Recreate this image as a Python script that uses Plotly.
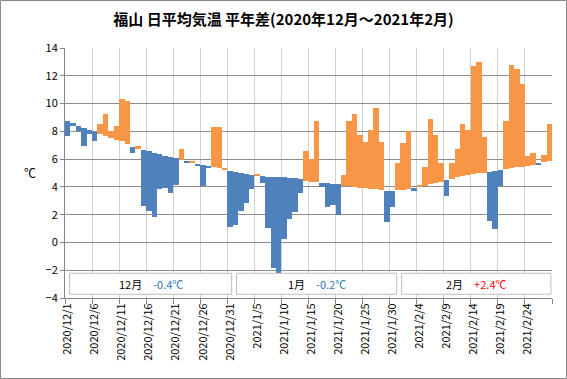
import plotly.graph_objects as go

# ---- data ----
tick_labels = ["2020/12/1", "2020/12/6", "2020/12/11", "2020/12/16", "2020/12/21",
               "2020/12/26", "2020/12/31", "2021/1/5", "2021/1/10", "2021/1/15",
               "2021/1/20", "2021/1/25", "2021/1/30", "2021/2/4", "2021/2/9",
               "2021/2/14", "2021/2/19", "2021/2/24"]

normal = [
    8.76, 8.58, 8.42, 8.26, 8.10, 7.98, 7.80, 7.65, 7.52, 7.40,
    7.27, 7.10, 6.88, 6.74, 6.66, 6.55, 6.45, 6.35, 6.25, 6.15,
    6.05, 5.95, 5.86, 5.76, 5.68, 5.60, 5.52, 5.44, 5.36, 5.25,
    5.15, 5.06, 5.00, 4.94, 4.88, 4.82, 4.76, 4.74, 4.72, 4.70,
    4.68, 4.66, 4.63, 4.56, 4.44, 4.38, 4.33, 4.30, 4.26, 4.22,
    4.18, 4.08, 4.04, 3.97, 3.92, 3.90, 3.87, 3.82, 3.75, 3.72,
    3.72, 3.77, 3.79, 3.83, 3.95, 4.02, 4.10, 4.18, 4.26, 4.38,
    4.50, 4.60, 4.70, 4.78, 4.86, 4.93, 4.98, 5.03, 5.10, 5.15,
    5.20, 5.28, 5.34, 5.40, 5.46, 5.52, 5.60, 5.68, 5.76, 5.84,
]

actual = [
    7.70, 8.40, 8.06, 6.98, 7.80, 7.27, 8.50, 9.26, 8.06, 8.40,
    10.32, 10.20, 6.43, 6.96, 2.65, 2.29, 1.81, 3.83, 3.90, 3.54,
    4.14, 6.74, 5.72, 5.90, 5.47, 4.07, 5.35, 8.30, 8.30, 5.39,
    1.14, 1.26, 2.29, 2.87, 3.88, 4.94, 4.31, 1.02, -1.87, -2.23,
    0.25, 1.69, 2.22, 3.59, 6.55, 6.02, 8.76, 4.02, 2.53, 2.73,
    1.96, 4.87, 8.76, 9.26, 7.75, 7.20, 8.11, 9.67, 7.20, 1.50,
    2.53, 5.70, 7.15, 8.01, 3.70, 4.12, 5.44, 8.90, 7.75, 5.75,
    3.37, 5.73, 6.74, 8.54, 8.11, 12.68, 13.00, 7.60, 1.57, 0.99,
    4.10, 8.78, 12.80, 12.49, 11.43, 6.24, 6.45, 5.61, 6.31, 8.52,
]

months = ["12月", "1月", "2月"]
month_anomaly = ["-0.4℃", "-0.2℃", "+2.4℃"]

# ---- figure ----
BLUE = "#4F81BD"
ORANGE = "#F79646"
FONT = "Noto Sans CJK JP, sans-serif"

idx = list(range(len(normal)))
diff = [a - n for a, n in zip(actual, normal)]
colors = [ORANGE if d >= 0 else BLUE for d in diff]

fig = go.Figure()
fig.add_trace(go.Bar(
    x=idx, y=diff, base=normal, width=1.0,
    marker=dict(color=colors, line=dict(width=0)),
    hoverinfo="skip", showlegend=False,
))

W, H = 567, 379
L, R, T, B = 65, 15, 48, 81
pw, ph = W - L - R, H - T - B

shapes = []
annotations = []

# month boxes
box_ranges = [(0.35, 30.3), (31.2, 60.8), (61.7, 89.3)]
box_y = (-3.73, -2.22)
anom_colors = ["#2E75B6", "#2E75B6", "#FF0000"]
for (x0, x1), m, a, c in zip(box_ranges, months, month_anomaly, anom_colors):
    shapes.append(dict(type="rect", xref="x", yref="y", x0=x0, x1=x1,
                       y0=box_y[0], y1=box_y[1], fillcolor="white",
                       line=dict(color="#BFBFBF", width=1), layer="above"))
    annotations.append(dict(
        xref="x", yref="y", x=(x0 + x1) / 2, y=(box_y[0] + box_y[1]) / 2,
        text=f"{m}　<span style='color:{c}'>{a}</span>", showarrow=False,
        font=dict(family=FONT, size=11, color="#000000"),
        xanchor="center", yanchor="middle"))

# outer chart border
shapes.append(dict(type="rect", xref="paper", yref="paper",
                   x0=(-L + 0.5) / pw, x1=1 + (R - 0.5) / pw,
                   y0=(-B + 0.5) / ph, y1=1 + (T - 0.5) / ph,
                   line=dict(color="#8A8A8A", width=1), fillcolor="rgba(0,0,0,0)",
                   layer="below"))

# y-axis unit label
annotations.append(dict(xref="paper", yref="paper", x=(30 - L) / pw, y=(298 - 172) / ph,
                        text="℃", showarrow=False, xanchor="center", yanchor="middle",
                        font=dict(family=FONT, size=12, color="#000000")))

fig.update_layout(
    width=W, height=H,
    margin=dict(l=L, r=R, t=T, b=B),
    paper_bgcolor="white", plot_bgcolor="white",
    bargap=0,
    title=dict(text="<b>福山 日平均気温 平年差(2020年12月～2021年2月)</b>",
               x=0.5, xref="container", xanchor="center",
               y=1 - 20 / H, yref="container", yanchor="middle",
               font=dict(family=FONT, size=15, color="#000000")),
    shapes=shapes, annotations=annotations,
    xaxis=dict(
        range=[-0.5, 89.5], tickmode="array",
        tickvals=idx[::5], ticktext=tick_labels, tickangle=-90,
        ticks="", showgrid=False, zeroline=False,
        showline=True, linecolor="#868686", linewidth=1,
        tickfont=dict(family=FONT, size=11, color="#000000"),
        minor=dict(tickmode="linear", tick0=-0.5, dtick=5, ticks="outside",
                   ticklen=5, tickcolor="#868686", showgrid=True,
                   gridcolor="#D0D0D0", gridwidth=1),
        mirror=False,
    ),
    yaxis=dict(
        range=[-4, 14], dtick=2, tick0=-4,
        showgrid=True, gridcolor="#8E8E8E", gridwidth=1,
        zeroline=False, showline=True, linecolor="#868686", linewidth=1,
        ticks="outside", ticklen=4, tickcolor="#868686",
        tickfont=dict(family=FONT, size=11, color="#000000"),
    ),
)

fig.write_html(
    "out.html",
    config={"displayModeBar": False},
    post_script="document.body.style.margin='0';document.body.style.overflow='hidden';",
)
